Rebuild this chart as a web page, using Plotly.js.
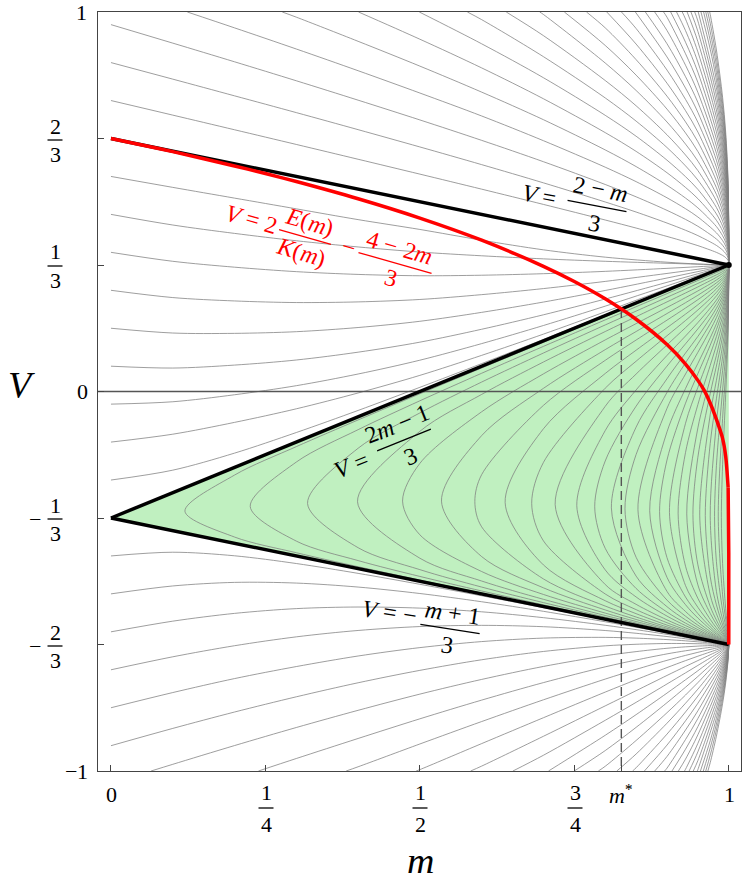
<!DOCTYPE html>
<html><head><meta charset="utf-8">
<script src="https://cdn.plot.ly/plotly-3.0.1.min.js"></script>
<style>
@font-face { font-family: 'RefSerif'; font-style: normal; font-weight: 400;
  src: local('Liberation Serif'), local('LiberationSerif'), local('LiberationSerif-Regular'), local('DejaVu Serif'), local('DejaVuSerif'); }
@font-face { font-family: 'RefSerif'; font-style: italic; font-weight: 400;
  src: local('Liberation Serif Italic'), local('LiberationSerif-Italic'), local('DejaVu Serif Italic'), local('DejaVuSerif-Italic'); }
html,body{margin:0;padding:0;background:#fff}
#chart svg text, #chart svg tspan { font-family: 'RefSerif', 'Liberation Serif', 'DejaVu Serif', serif !important; }
</style>
</head><body><div id="chart" style="width:742px;height:882px"></div>
<script>
// ---------- data ----------
const mStar = 0.8261;
const lineM = [0, 1];
const upperLineV = [2/3, 1/3];
const middleLineV = [-1/3, 1/3];
const lowerLineV = [-1/3, -2/3];
const redM = [0, 0.05, 0.1, 0.2, 0.25, 0.3, 0.4, 0.5, 0.6, 0.7, 0.75, 0.8, 0.85, 0.9, 0.93, 0.95, 0.96, 0.97, 0.98, 0.99, 0.995, 0.999];
const redV = [0.6667, 0.6497, 0.6320, 0.5944, 0.5744, 0.5533, 0.5079, 0.4570, 0.3987, 0.3299, 0.2898, 0.2442, 0.1903, 0.1237, 0.0723, 0.0293, 0.0034, -0.0309, -0.0735, -0.1235, -0.1705, -0.2533];
const redTailM = [0.999, 0.9999, 0.99999, 0.999999, 1];
const redTailV = [-0.2533, -0.3329, -0.3867, -0.4255, -0.6667];

// m positions at which the thin outer curves were read
const fanM = [0, 0.1, 0.2, 0.3, 0.4, 0.5, 0.6, 0.7, 0.8, 0.85, 0.9, 0.93, 0.95, 0.97, 0.98, 0.99, 0.995, 0.999, 1];

// thin curves above V=(2-m)/3 (entry m through the top edge, first fanM index, values)
const upperEntryM = [null, null, null, 0.1236, 0.2773, 0.4007, 0.4991, 0.5769, 0.6398, 0.6940, 0.7339, 0.7697, 0.8025, 0.8263, 0.8488, 0.8650, 0.8801, 0.8945, 0.9060, 0.9155, 0.9247, 0.9326, 0.9388, 0.9449, 0.9506, 0.9550, 0.9593, 0.9628, 0.9660, 0.9691];
const upperStart = [0, 0, 0, 2, 3, 5, 6, 6, 7, 7, 8, 8, 9, 9, 10, 10, 10, 10, 11, 11, 11, 12, 12, 12, 14, 13, 13, 13, 13, 13];
const upperV = [
 [0.7667,0.7283,0.6897,0.6510,0.6120,0.5728,0.5332,0.4930,0.4519,0.4307,0.4086,0.3945,0.3844,null,0.3666,0.3586,0.3530,0.3450,0.3333],
 [0.8667,0.8231,0.7791,0.7349,0.6900,0.6444,0.5978,0.5498,0.4994,0.4729,0.4439,0.4249,0.4108,null,0.3849,0.3725,0.3637,0.3514,0.3333],
 [0.9667,0.9180,0.8688,0.8188,0.7677,0.7156,0.6618,0.6055,0.5455,0.5130,0.4773,0.4535,0.4354,null,0.4017,0.3853,0.3737,0.3572,0.3333],
 [0.9582,0.9025,0.8453,0.7865,0.7260,0.6609,0.5911,0.5530,0.5105,0.4817,0.4598,null,0.4181,0.3979,0.3834,0.3630,0.3333],
 [0.9864,0.9228,0.8574,0.7889,0.7162,0.6366,0.5927,0.5434,0.5097,0.4839,null,0.4346,0.4105,0.3932,0.3688,0.3333],
 [0.9283,0.8527,0.7714,0.6822,0.6328,0.5765,0.5377,0.5081,null,0.4512,0.4232,0.4031,0.3747,0.3333],
 [0.9162,0.8268,0.7278,0.6727,0.6096,0.5661,0.5326,null,0.4679,0.4360,0.4131,0.3807,0.3333],
 [0.9799,0.8823,0.7736,0.7125,0.6429,0.5945,0.5572,null,0.4849,0.4490,0.4233,0.3868,0.3333],
 [0.9377,0.8195,0.7529,0.6765,0.6232,0.5821,null,0.5020,0.4623,0.4337,0.3930,0.3333],
 [0.9935,0.8656,0.7932,0.7102,0.6520,0.6071,null,0.5194,0.4757,0.4442,0.3994,0.3333],
 [0.9119,0.8337,0.7441,0.6813,0.6324,null,0.5370,0.4893,0.4549,0.4059,0.3333],
 [0.9583,0.8745,0.7782,0.7105,0.6580,null,0.5548,0.5031,0.4658,0.4125,0.3333],
 [0.9155,0.8125,0.7400,0.6837,null,0.5728,0.5171,0.4768,0.4192,0.3333],
 [0.9565,0.8470,0.7697,0.7095,null,0.5910,0.5313,0.4880,0.4260,0.3333],
 [0.8816,0.7995,0.7356,null,0.6093,0.5456,0.4994,0.4330,0.3333],
 [0.9164,0.8295,0.7618,null,0.6278,0.5601,0.5109,0.4400,0.3333],
 [0.9513,0.8597,0.7881,null,0.6464,0.5747,0.5225,0.4472,0.3333],
 [0.9863,0.8899,0.8146,null,0.6653,0.5895,0.5342,0.4544,0.3333],
 [0.9204,0.8413,null,0.6842,0.6044,0.5461,0.4617,0.3333],
 [0.9509,0.8680,null,0.7033,0.6194,0.5581,0.4692,0.3333],
 [0.9815,0.8949,null,0.7226,0.6346,0.5702,0.4767,0.3333],
 [0.9219,null,0.7419,0.6498,0.5824,0.4844,0.3333],
 [0.9490,null,0.7613,0.6650,0.5947,0.4921,0.3333],
 [0.9762,null,0.7808,0.6807,0.6071,0.4997,0.3333],
 [0.8005,0.6962,0.6196,0.5077,0.3333],
 [0.9019,0.8202,0.7118,0.6322,0.5156,0.3333],
 [0.9247,0.8400,0.7277,0.6449,0.5236,0.3333],
 [0.9475,0.8598,0.7434,0.6577,0.5317,0.3333],
 [0.9706,0.8798,0.7593,0.6705,0.5398,0.3333],
 [0.9935,0.8999,0.7753,0.6834,0.5480,0.3333]
];

// thin curves below V=-(m+1)/3 (entry m through the bottom edge, first fanM index, values)
const lowerEntryM = [null, null, null, null, null, null, 0.0649, 0.2387, 0.3807, 0.4940, 0.5822, 0.6506, 0.7082, 0.7499, 0.7889, 0.8188, 0.8443, 0.8634, 0.8801, 0.8961, 0.9081, 0.9184, 0.9283, 0.9358, 0.9425, 0.9490, 0.9541, 0.9588, 0.9627, 0.9662];
const lowerStart = [0, 0, 0, 0, 0, 0, 1, 3, 4, 5, 6, 7, 8, 8, 8, 9, 9, 10, 10, 10, 11, 11, 11, 12, 12, 12, 13, 13, 13, 13];
const lowerV = [
 [-0.4333,-0.4235,-0.4329,-0.4533,-0.4792,-0.5080,-0.5383,-0.5696,-0.6016,-0.6177,-0.6340,-0.6437,-0.6503,null,-0.6601,-0.6634,-0.6650,-0.6665,-0.6667],
 [-0.5333,-0.5124,-0.5030,-0.5048,-0.5153,-0.5323,-0.5540,-0.5792,-0.6067,-0.6212,-0.6360,-0.6451,-0.6513,null,-0.6605,-0.6636,-0.6652,-0.6666,-0.6667],
 [-0.6333,-0.6052,-0.5847,-0.5721,-0.5679,-0.5708,-0.5805,-0.5960,-0.6160,-0.6275,-0.6399,-0.6477,-0.6530,null,-0.6613,-0.6640,-0.6654,-0.6665,-0.6667],
 [-0.7333,-0.6991,-0.6699,-0.6465,-0.6297,-0.6194,-0.6162,-0.6198,-0.6298,-0.6371,-0.6457,-0.6516,-0.6558,null,-0.6624,-0.6647,-0.6658,-0.6666,-0.6667],
 [-0.8333,-0.7933,-0.7565,-0.7248,-0.6970,-0.6749,-0.6590,-0.6498,-0.6479,-0.6499,-0.6537,-0.6570,-0.6596,null,-0.6640,-0.6656,-0.6663,-0.6668,-0.6667],
 [-0.9333,-0.8878,-0.8446,-0.8045,-0.7675,-0.7348,-0.7069,-0.6850,-0.6702,-0.6661,-0.6640,-0.6641,-0.6646,null,-0.6661,-0.6668,-0.6670,-0.6670,-0.6667],
 [-0.9824,-0.9330,-0.8854,-0.8401,-0.7974,-0.7587,-0.7245,-0.6963,-0.6854,-0.6766,-0.6728,-0.6709,null,-0.6688,-0.6683,-0.6679,-0.6673,-0.6667],
 [-0.9671,-0.9143,-0.8625,-0.8132,-0.7671,-0.7255,-0.7076,-0.6914,-0.6832,-0.6784,null,-0.6721,-0.6701,-0.6690,-0.6677,-0.6667],
 [-0.9889,-0.9288,-0.8697,-0.8124,-0.7578,-0.7323,-0.7084,-0.6954,-0.6873,null,-0.6760,-0.6723,-0.6703,-0.6681,-0.6667],
 [-0.9963,-0.9278,-0.8596,-0.7921,-0.7594,-0.7274,-0.7092,-0.6975,null,-0.6807,-0.6750,-0.6719,-0.6687,-0.6667],
 [-0.9871,-0.9085,-0.8284,-0.7884,-0.7482,-0.7245,-0.7090,null,-0.6860,-0.6780,-0.6737,-0.6693,-0.6667],
 [-0.9585,-0.8664,-0.8191,-0.7707,-0.7414,-0.7218,null,-0.6920,-0.6815,-0.6758,-0.6700,-0.6667],
 [-0.9059,-0.8515,-0.7947,-0.7596,-0.7358,null,-0.6988,-0.6855,-0.6782,-0.6709,-0.6667],
 [-0.9462,-0.8850,-0.8200,-0.7793,-0.7509,null,-0.7062,-0.6899,-0.6808,-0.6718,-0.6667],
 [-0.9876,-0.9196,-0.8464,-0.7999,-0.7671,null,-0.7144,-0.6948,-0.6838,-0.6729,-0.6667],
 [-0.9552,-0.8741,-0.8215,-0.7843,null,-0.7233,-0.7002,-0.6871,-0.6740,-0.6667],
 [-0.9915,-0.9028,-0.8444,-0.8025,null,-0.7329,-0.7060,-0.6908,-0.6754,-0.6667],
 [-0.9317,-0.8677,-0.8215,null,-0.7431,-0.7124,-0.6947,-0.6768,-0.6667],
 [-0.9617,-0.8920,-0.8414,null,-0.7540,-0.7192,-0.6990,-0.6784,-0.6667],
 [-0.9925,-0.9170,-0.8616,null,-0.7655,-0.7265,-0.7037,-0.6801,-0.6667],
 [-0.9425,-0.8830,null,-0.7777,-0.7343,-0.7086,-0.6820,-0.6667],
 [-0.9687,-0.9045,null,-0.7903,-0.7425,-0.7139,-0.6841,-0.6667],
 [-0.9953,-0.9272,null,-0.8034,-0.7511,-0.7195,-0.6863,-0.6667],
 [-0.9494,null,-0.8170,-0.7602,-0.7255,-0.6887,-0.6667],
 [-0.9726,null,-0.8314,-0.7697,-0.7318,-0.6907,-0.6667],
 [-0.9962,null,-0.8459,-0.7795,-0.7384,-0.6940,-0.6667],
 [-0.9202,-0.8609,-0.7898,-0.7453,-0.6960,-0.6667],
 [-0.9388,-0.8763,-0.8003,-0.7525,-0.6989,-0.6667],
 [-0.9582,-0.8919,-0.8113,-0.7600,-0.7020,-0.6667],
 [-0.9780,-0.9080,-0.8226,-0.7679,-0.7053,-0.6667]
];

// thin curves between the two upper black lines, all meeting at (1, 1/3)
const wedgeM = [0, 0.1, 0.2, 0.3, 0.4, 0.5, 0.6, 0.7, 0.8, 0.9, 0.95, 1];
const wedgeV = [
 [0.5667,0.5379,0.5096,0.4813,0.4529,0.4270,0.3987,0.3733,0.3540,0.3407,0.3360,0.3333],
 [0.4667,0.4387,0.4166,0.3972,0.3809,0.3675,0.3576,0.3495,0.3431,0.3379,0.3355,0.3333],
 [0.3667,0.3431,0.3276,0.3158,0.3085,0.3050,0.3064,0.3104,0.3166,0.3245,0.3288,0.3333],
 [0.2667,0.2475,0.2386,0.2344,0.2361,0.2425,0.2552,0.2712,0.2901,0.3111,0.3221,0.3333],
 [0.1667,0.1541,0.1532,0.1576,0.1686,0.1850,0.2085,0.2357,0.2662,0.2990,0.3160,0.3333],
 [0.0667,0.0618,0.0696,0.0830,0.1036,0.1300,0.1640,0.2021,0.2436,0.2877,0.3103,0.3333],
 [-0.0333,-0.0270,-0.0086,0.0153,0.0461,0.0825,0.1262,0.1739,0.2249,0.2783,0.3057,0.3333],
 [-0.1333,-0.1125,-0.0814,-0.0456,-0.0039,0.0425,0.0952,0.1512,0.2101,0.2711,0.3021,0.3333],
 [-0.2333,-0.2073,-0.1624,-0.1081,-0.0499,0.0110,0.0735,0.1372,0.2020,0.2675,0.3004,0.3333]
];

// closed loops inside the green region: leftmost point, then upper and lower branch values
const loopM = [0.2, 0.3, 0.4, 0.5, 0.6, 0.7, 0.8, 0.85, 0.9, 0.93, 0.95, 0.97, 0.98, 0.99, 0.995, 0.999, 1];
const loopTipM = [0.1197, 0.2254, 0.3182, 0.3991, 0.472, 0.535, 0.589, 0.638, 0.681, 0.719, 0.754, 0.783, 0.810, 0.832, 0.853, 0.872, 0.888, 0.904, 0.918, 0.932, 0.942, 0.953, 0.962, 0.970, 0.977, 0.983, 0.988];
const loopTipV = [-0.3153, -0.3028, -0.2950, -0.2906, -0.2888, -0.2889, -0.2902, -0.2923, -0.2949, -0.2978, -0.3008, -0.3037, -0.3066, -0.3092, -0.3117, -0.3142, -0.3163, -0.3185, -0.3205, -0.3226, -0.3241, -0.3258, -0.3272, -0.3284, -0.3296, -0.3305, -0.3314];
const loopStart = [0, 1, 2, 3, 3, 4, 4, 5, 5, 6, 6, 6, 7, 7, 8, 8, 8, 9, 9, 10, 10, 11, 11, 12, 12, 13, 13];
const loopUpperV = [
 [-0.2202,-0.1453,-0.0750,-0.0061,0.0620,0.1296,0.1971,0.2307,0.2644,0.2846,0.2979,0.3114,0.3180,0.3246,0.3280,0.3310,0.3333],
 [-0.1859,-0.1006,-0.0245,0.0481,0.1189,0.1887,0.2234,0.2579,0.2787,0.2925,0.3063,0.3133,0.3205,0.3245,0.3287,0.3333],
 [-0.1496,-0.0565,0.0249,0.1014,0.1754,0.2118,0.2482,0.2700,0.2848,0.2996,0.3074,0.3158,0.3207,0.3265,0.3333],
 [-0.1049,-0.0077,0.0777,0.1580,0.1971,0.2361,0.2596,0.2756,0.2921,0.3009,0.3108,0.3168,0.3242,0.3333],
 [-0.1894,-0.0535,0.0464,0.1359,0.1788,0.2215,0.2473,0.2650,0.2836,0.2938,0.3053,0.3126,0.3218,0.3333],
 [-0.1162,0.0083,0.1103,0.1580,0.2054,0.2340,0.2537,0.2747,0.2863,0.2997,0.3083,0.3193,0.3333],
 [-0.2191,-0.0366,0.0821,0.1356,0.1880,0.2200,0.2419,0.2656,0.2787,0.2941,0.3041,0.3168,0.3333],
 [-0.0982,0.0474,0.1088,0.1681,0.2039,0.2285,0.2553,0.2702,0.2877,0.2992,0.3141,0.3333],
 [-0.1869,0.0087,0.0798,0.1469,0.1871,0.2148,0.2447,0.2614,0.2814,0.2944,0.3113,0.3333],
 [-0.0391,0.0459,0.1227,0.1683,0.1994,0.2331,0.2519,0.2744,0.2891,0.3083,0.3333],
 [-0.1030,0.0041,0.0950,0.1463,0.1816,0.2197,0.2410,0.2664,0.2831,0.3048,0.3333],
 [-0.1832,-0.0387,0.0668,0.1256,0.1650,0.2072,0.2309,0.2590,0.2776,0.3017,0.3333],
 [-0.0939,0.0336,0.1013,0.1452,0.1931,0.2195,0.2510,0.2714,0.2982,0.3333],
 [-0.1660,-0.0025,0.0756,0.1256,0.1784,0.2076,0.2423,0.2650,0.2946,0.3333],
 [-0.0445,0.0460,0.1033,0.1621,0.1946,0.2329,0.2581,0.2907,0.3333],
 [-0.1064,0.0079,0.0741,0.1415,0.1784,0.2215,0.2496,0.2860,0.3333],
 [-0.1805,-0.0309,0.0468,0.1220,0.1630,0.2107,0.2416,0.2816,0.3333],
 [-0.0838,0.0111,0.0983,0.1445,0.1977,0.2321,0.2763,0.3333],
 [-0.1607,-0.0344,0.0688,0.1220,0.1822,0.2207,0.2701,0.3333],
 [-0.0959,0.0332,0.0951,0.1640,0.2075,0.2628,0.3333],
 [-0.1730,-0.0052,0.0673,0.1454,0.1942,0.2556,0.3333],
 [-0.0607,0.0294,0.1205,0.1763,0.2462,0.3333],
 [-0.1367,-0.0192,0.0912,0.1560,0.2353,0.3333],
 [-0.0828,0.0550,0.1313,0.2227,0.3333],
 [-0.1953,0.0035,0.0974,0.2055,0.3333],
 [-0.0713,0.0522,0.1834,0.3333],
 [-0.1931,-0.0074,0.1565,0.3333]
];
const loopLowerV = [
 [-0.3835,-0.4248,-0.4617,-0.4969,-0.5314,-0.5656,-0.5994,-0.6163,-0.6331,-0.6432,-0.6499,-0.6566,-0.6600,-0.6633,-0.6650,-0.6663,-0.6667],
 [-0.3942,-0.4455,-0.4873,-0.5256,-0.5622,-0.5977,-0.6151,-0.6324,-0.6427,-0.6496,-0.6564,-0.6598,-0.6632,-0.6650,-0.6663,-0.6667],
 [-0.4116,-0.4694,-0.5153,-0.5563,-0.5946,-0.6131,-0.6312,-0.6419,-0.6490,-0.6561,-0.6596,-0.6631,-0.6649,-0.6662,-0.6667],
 [-0.4393,-0.4994,-0.5476,-0.5902,-0.6102,-0.6295,-0.6408,-0.6482,-0.6556,-0.6593,-0.6629,-0.6648,-0.6662,-0.6667],
 [-0.3776,-0.4744,-0.5348,-0.5839,-0.6061,-0.6270,-0.6392,-0.6471,-0.6549,-0.6588,-0.6627,-0.6646,-0.6662,-0.6667],
 [-0.4350,-0.5173,-0.5756,-0.6007,-0.6240,-0.6372,-0.6457,-0.6541,-0.6582,-0.6624,-0.6644,-0.6661,-0.6667],
 [-0.3566,-0.4939,-0.5654,-0.5942,-0.6203,-0.6346,-0.6440,-0.6531,-0.6576,-0.6620,-0.6642,-0.6661,-0.6667],
 [-0.4570,-0.5513,-0.5854,-0.6155,-0.6315,-0.6417,-0.6518,-0.6567,-0.6615,-0.6639,-0.6660,-0.6667],
 [-0.3935,-0.5335,-0.5748,-0.6093,-0.6278,-0.6393,-0.6503,-0.6556,-0.6609,-0.6636,-0.6659,-0.6667],
 [-0.5086,-0.5608,-0.6018,-0.6230,-0.6361,-0.6484,-0.6544,-0.6602,-0.6632,-0.6657,-0.6667],
 [-0.4700,-0.5414,-0.5918,-0.6168,-0.6319,-0.6460,-0.6527,-0.6593,-0.6627,-0.6656,-0.6667],
 [-0.4132,-0.5190,-0.5811,-0.6103,-0.6276,-0.6435,-0.6510,-0.6584,-0.6621,-0.6654,-0.6667],
 [-0.4864,-0.5670,-0.6019,-0.6220,-0.6403,-0.6489,-0.6573,-0.6615,-0.6652,-0.6667],
 [-0.4368,-0.5497,-0.5921,-0.6157,-0.6368,-0.6465,-0.6559,-0.6607,-0.6649,-0.6667],
 [-0.5268,-0.5797,-0.6079,-0.6324,-0.6436,-0.6544,-0.6598,-0.6646,-0.6667],
 [-0.4897,-0.5618,-0.5969,-0.6264,-0.6397,-0.6523,-0.6586,-0.6642,-0.6667],
 [-0.4378,-0.5416,-0.5851,-0.6200,-0.6356,-0.6501,-0.6574,-0.6638,-0.6667],
 [-0.5115,-0.5687,-0.6117,-0.6301,-0.6473,-0.6558,-0.6633,-0.6667],
 [-0.4603,-0.5451,-0.6004,-0.6229,-0.6436,-0.6536,-0.6626,-0.6667],
 [-0.5095,-0.5848,-0.6133,-0.6387,-0.6509,-0.6617,-0.6667],
 [-0.4567,-0.5663,-0.6024,-0.6334,-0.6479,-0.6608,-0.6667],
 [-0.5364,-0.5855,-0.6252,-0.6436,-0.6593,-0.6667],
 [-0.4880,-0.5621,-0.6147,-0.6380,-0.6576,-0.6667],
 [-0.5265,-0.6003,-0.6303,-0.6552,-0.6667],
 [-0.4484,-0.5766,-0.6186,-0.6517,-0.6667],
 [-0.5356,-0.6003,-0.6465,-0.6667],
 [-0.4530,-0.5722,-0.6394,-0.6667]
];

const xTickVals = [0, 0.25, 0.5, 0.75, mStar, 1];
const yTickVals = [-1, -2/3, -1/3, 0, 1/3, 2/3, 1];

// ---------- drawing ----------
const L = 98, T = 12, W = 643, H = 759;
const FONT = 'RefSerif, Liberation Serif, DejaVu Serif, serif';
function px(x){ return (x - L) / W; }
function py(y){ return (T + H - y) / H; }
const annotations = [], shapes = [];
function ann(x, y, text, size, color, ang, xa){
  annotations.push({xref:'paper', yref:'paper', x:px(x), y:py(y), text:text, showarrow:false,
    xanchor:xa||'center', yanchor:'middle', textangle:ang||0,
    font:{family:FONT, size:size||22, color:color||'#000'}});
}
function frac(cx, cy, num, den, w, size, color, ang, dy){
  const t = (ang||0)*Math.PI/180, c = Math.cos(t), s = Math.sin(t);
  dy = dy || size*0.7;
  ann(cx + dy*s, cy - dy*c, num, size, color, ang);
  ann(cx - dy*s, cy + dy*c, den, size, color, ang);
  shapes.push({type:'line', xref:'paper', yref:'paper', x0:px(cx - w/2*c), y0:py(cy - w/2*s), x1:px(cx + w/2*c), y1:py(cy + w/2*s),
    line:{color:color||'#000', width:1.3}});
}

const traces = [];
traces.push({x:[lineM[0], lineM[1], lineM[1], lineM[0]], y:[middleLineV[0], middleLineV[1], lowerLineV[1], lowerLineV[0]],
  fill:'toself', fillcolor:'#c0f0c0', line:{width:0}, mode:'lines', hoverinfo:'skip'});

const thin = {color:'#7d7d7d', width:0.75, shape:'spline', smoothing:0.9};
function addFan(entryM, start, rows, edgeV){
  rows.forEach(function(row, k){
    const xs = [], ys = [];
    if (entryM[k] !== null) { xs.push(entryM[k]); ys.push(edgeV); }
    row.forEach(function(v, j){ if (v !== null) { xs.push(fanM[start[k] + j]); ys.push(v); } });
    traces.push({x:xs, y:ys, mode:'lines', line:thin, hoverinfo:'skip'});
  });
}
addFan(upperEntryM, upperStart, upperV, 1);
addFan(lowerEntryM, lowerStart, lowerV, -1);
wedgeV.forEach(function(row){
  traces.push({x:wedgeM, y:row, mode:'lines', line:thin, hoverinfo:'skip'});
});
loopUpperV.forEach(function(up, k){
  const lo = loopLowerV[k], ms = loopM.slice(loopStart[k]);
  const xs = ms.slice().reverse().concat([loopTipM[k]], ms);
  const ys = up.slice().reverse().concat([loopTipV[k]], lo);
  traces.push({x:xs, y:ys, mode:'lines', line:thin, hoverinfo:'skip'});
});

traces.push({x:[-0.05, 1.05], y:[0, 0], mode:'lines', line:{color:'#555', width:1.3}});
traces.push({x:[mStar, mStar], y:[(2*mStar-1)/3, -1], mode:'lines', line:{color:'#555', width:1.4, dash:'9px,5px'}});
traces.push({x:lineM, y:upperLineV, mode:'lines', line:{color:'#000', width:3.5}});
traces.push({x:lineM, y:middleLineV, mode:'lines', line:{color:'#000', width:3.5}});
traces.push({x:lineM, y:lowerLineV, mode:'lines', line:{color:'#000', width:3.5}});
traces.push({x:redM, y:redV, mode:'lines', line:{color:'#ff0000', width:3.5, shape:'spline', smoothing:0.8}});
traces.push({x:redTailM, y:redTailV, mode:'lines', line:{color:'#ff0000', width:3.5}});
traces.push({x:[1], y:[1/3], mode:'markers', marker:{color:'#000', size:6}});

// tick labels
ann(89, 12, '1', 22, '#000', 0, 'right');
frac(55, 140, '2', '3', 15, 22, '#000', 0, 14);
frac(55, 266, '1', '3', 15, 22, '#000', 0, 14);
ann(90, 392, '0', 22, '#000', 0, 'right');
frac(55, 519, '1', '3', 15, 22, '#000', 0, 14); ann(35, 519, '\u2212', 22);
frac(55, 646, '2', '3', 15, 22, '#000', 0, 14); ann(35, 646, '\u2212', 22);
ann(90, 771, '\u22121', 22, '#000', 0, 'right');
ann(111, 794, '0', 22);
frac(266, 808, '1', '4', 15, 22, '#000', 0, 16);
frac(420, 808, '1', '2', 15, 22, '#000', 0, 16);
frac(575, 808, '3', '4', 15, 22, '#000', 0, 16);
ann(621, 794, '<i>m</i><sup>*</sup>', 22);
ann(729, 794, '1', 22);
// axis titles
ann(21, 385, '<i>V</i>', 38);
ann(420, 860, '<i>m</i>', 38);
// curve labels
ann(539, 195, '<i>V</i> =', 24, '#000', 11);
frac(597, 206, '2 \u2212 <i>m</i>', '3', 60, 24, '#000', 11, 17);
ann(251, 219, '<i>V</i> = 2', 24, '#ff0000', 16);
frac(305, 237, '<i>E</i>(<i>m</i>)', '<i>K</i>(<i>m</i>)', 54, 24, '#ff0000', 16, 16);
ann(349, 247, '\u2212', 24, '#ff0000', 16);
frac(395, 263, '4 \u2212 2<i>m</i>', '3', 76, 24, '#ff0000', 16, 16);
ann(351, 465, '<i>V</i> =', 24, '#000', -22);
frac(404, 440, '2<i>m</i> \u2212 1', '3', 58, 24, '#000', -22, 17);
ann(389, 612, '<i>V</i> = \u2212', 24, '#000', 9);
frac(450, 629, '<i>m</i> + 1', '3', 60, 24, '#000', 9, 16);

const layout = {
  width:742, height:882, margin:{l:L, r:742-L-W, t:T, b:882-T-H},
  paper_bgcolor:'#fff', plot_bgcolor:'#fff', showlegend:false,
  font:{family:FONT, size:22, color:'#000'},
  xaxis:{range:[-0.021, 1.0198], showgrid:false, zeroline:false, showline:true, mirror:true, linecolor:'#444', linewidth:1,
    ticks:'inside', ticklen:6, tickcolor:'#444', tickvals:xTickVals, showticklabels:false},
  yaxis:{range:[-1, 1], showgrid:false, zeroline:false, showline:true, mirror:true, linecolor:'#444', linewidth:1,
    ticks:'inside', ticklen:6, tickcolor:'#444', tickvals:yTickVals, showticklabels:false},
  annotations:annotations, shapes:shapes
};
Plotly.newPlot('chart', traces, layout, {staticPlot:true});
</script></body></html>
